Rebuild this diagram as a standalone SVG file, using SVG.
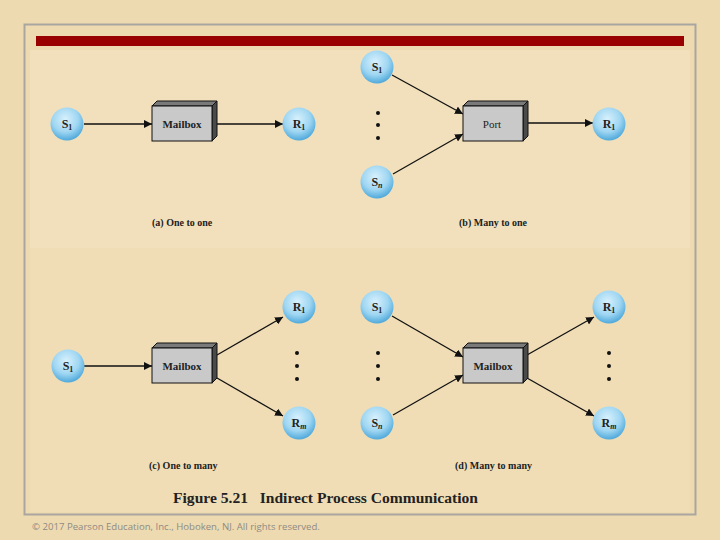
<svg xmlns="http://www.w3.org/2000/svg" width="720" height="540" viewBox="0 0 720 540">
<defs>
<radialGradient id="ball" cx="0.45" cy="0.35" r="0.65">
<stop offset="0" stop-color="#d8f1fc"/>
<stop offset="0.6" stop-color="#9fd6f2"/>
<stop offset="1" stop-color="#4fa9db"/>
</radialGradient>
<marker id="ah" viewBox="0 0 10 10" refX="10" refY="5" markerWidth="8" markerHeight="8" markerUnits="userSpaceOnUse" orient="auto">
<path d="M0,0 L10,5 L0,10 z" fill="#111"/>
</marker>
<g id="box">
<path d="M0,0 L5,-5 L65,-5 L60,0 z" fill="#7a7a7a" stroke="#111" stroke-width="1"/>
<path d="M60,0 L65,-5 L65,30 L60,35 z" fill="#4a4a4a" stroke="#111" stroke-width="1"/>
<rect x="0" y="0" width="60" height="35" fill="#c9c9c9" stroke="#111" stroke-width="1"/>
</g>
</defs>
<style>
.n{fill:url(#ball);}
.t{font-family:"Liberation Serif","Times New Roman",serif;font-weight:bold;fill:#222;}
.nl{font-size:12px;text-anchor:middle;}
.bl{font-size:11px;text-anchor:middle;}
.reg{font-weight:normal;}
.cap{font-size:10px;}
.c line{stroke:#111;stroke-width:1.3;marker-end:url(#ah);}
.dot{fill:#111;}
</style>
<rect width="720" height="540" fill="#eedab0"/>
<rect x="30" y="50" width="660" height="198" fill="#f1e0bb"/>
<rect x="30" y="248" width="660" height="264" fill="#f0ddb6"/>
<rect x="24.5" y="24.5" width="671" height="490" fill="none" stroke="#a9a5a0" stroke-width="2"/>
<rect x="36" y="36" width="648" height="10" fill="#990000"/>

<g class="c" id="connectors">
<line x1="84" y1="124" x2="152" y2="124"/>
<line x1="212" y1="124" x2="283" y2="124"/>
<line x1="392" y1="75" x2="463" y2="114"/>
<line x1="393" y1="174" x2="463" y2="134"/>
<line x1="523" y1="123" x2="593" y2="123"/>
<line x1="84" y1="366" x2="152" y2="366"/>
<line x1="217" y1="355" x2="283" y2="317"/>
<line x1="217" y1="378" x2="283" y2="416"/>
<line x1="392" y1="316" x2="463" y2="357"/>
<line x1="393" y1="415" x2="463" y2="375"/>
<line x1="527" y1="355" x2="594" y2="317"/>
<line x1="527" y1="378" x2="594" y2="416"/>
</g>

<g id="a-s1"><circle class="n" cx="67" cy="124" r="16.5"/><text class="t nl" x="67" y="128">S<tspan font-size="8" dy="2">1</tspan></text></g>
<g id="a-mailbox"><use href="#box" x="152" y="106"/><text class="t bl" x="182" y="128">Mailbox</text></g>
<g id="a-r1"><circle class="n" cx="299" cy="124" r="16.5"/><text class="t nl" x="299" y="128">R<tspan font-size="8" dy="2">1</tspan></text></g>
<text class="t cap" x="152" y="226">(a) One to one</text>

<g id="b-s1"><circle class="n" cx="377" cy="67" r="16.5"/><text class="t nl" x="377" y="71">S<tspan font-size="8" dy="2">1</tspan></text></g>
<g id="b-dots"><circle class="dot" cx="378" cy="113" r="2"/><circle class="dot" cx="378" cy="125" r="2"/><circle class="dot" cx="378" cy="138" r="2"/></g>
<g id="b-sn"><circle class="n" cx="377" cy="182" r="16.5"/><text class="t nl" x="377" y="186">S<tspan font-size="8" font-style="italic" dy="2">n</tspan></text></g>
<g id="b-port"><use href="#box" x="463" y="106"/><text class="t bl reg" x="492" y="128">Port</text></g>
<g id="b-r1"><circle class="n" cx="609" cy="124" r="16.5"/><text class="t nl" x="609" y="128">R<tspan font-size="8" dy="2">1</tspan></text></g>
<text class="t cap" x="459" y="226">(b) Many to one</text>

<g id="c-s1"><circle class="n" cx="68" cy="366" r="16.5"/><text class="t nl" x="68" y="370">S<tspan font-size="8" dy="2">1</tspan></text></g>
<g id="c-mailbox"><use href="#box" x="152" y="348"/><text class="t bl" x="182" y="370">Mailbox</text></g>
<g id="c-r1"><circle class="n" cx="299" cy="307" r="16.5"/><text class="t nl" x="299" y="311">R<tspan font-size="8" dy="2">1</tspan></text></g>
<g id="c-dots"><circle class="dot" cx="297" cy="353" r="2"/><circle class="dot" cx="297" cy="366" r="2"/><circle class="dot" cx="297" cy="379" r="2"/></g>
<g id="c-rm"><circle class="n" cx="299" cy="423" r="16.5"/><text class="t nl" x="299" y="427">R<tspan font-size="8" font-style="italic" dy="2">m</tspan></text></g>
<text class="t cap" x="149" y="469">(c) One to many</text>

<g id="d-s1"><circle class="n" cx="377" cy="307" r="16.5"/><text class="t nl" x="377" y="311">S<tspan font-size="8" dy="2">1</tspan></text></g>
<g id="d-sdots"><circle class="dot" cx="378" cy="353" r="2"/><circle class="dot" cx="378" cy="366" r="2"/><circle class="dot" cx="378" cy="379" r="2"/></g>
<g id="d-sn"><circle class="n" cx="377" cy="423" r="16.5"/><text class="t nl" x="377" y="427">S<tspan font-size="8" font-style="italic" dy="2">n</tspan></text></g>
<g id="d-mailbox"><use href="#box" x="463" y="348"/><text class="t bl" x="493" y="370">Mailbox</text></g>
<g id="d-r1"><circle class="n" cx="609" cy="307" r="16.5"/><text class="t nl" x="609" y="311">R<tspan font-size="8" dy="2">1</tspan></text></g>
<g id="d-rdots"><circle class="dot" cx="609" cy="353" r="2"/><circle class="dot" cx="609" cy="366" r="2"/><circle class="dot" cx="609" cy="379" r="2"/></g>
<g id="d-rm"><circle class="n" cx="609" cy="423" r="16.5"/><text class="t nl" x="609" y="427">R<tspan font-size="8" font-style="italic" dy="2">m</tspan></text></g>
<text class="t cap" x="455" y="469">(d) Many to many</text>

<text class="t" x="173" y="503" font-size="15" textLength="305" lengthAdjust="spacingAndGlyphs" xml:space="preserve">Figure 5.21   Indirect Process Communication</text>
<text x="32" y="530" font-family="'Open Sans','Liberation Sans',sans-serif" font-size="9.6" fill="#8f8a84">© 2017 Pearson Education, Inc., Hoboken, NJ. All rights reserved.</text>
</svg>
